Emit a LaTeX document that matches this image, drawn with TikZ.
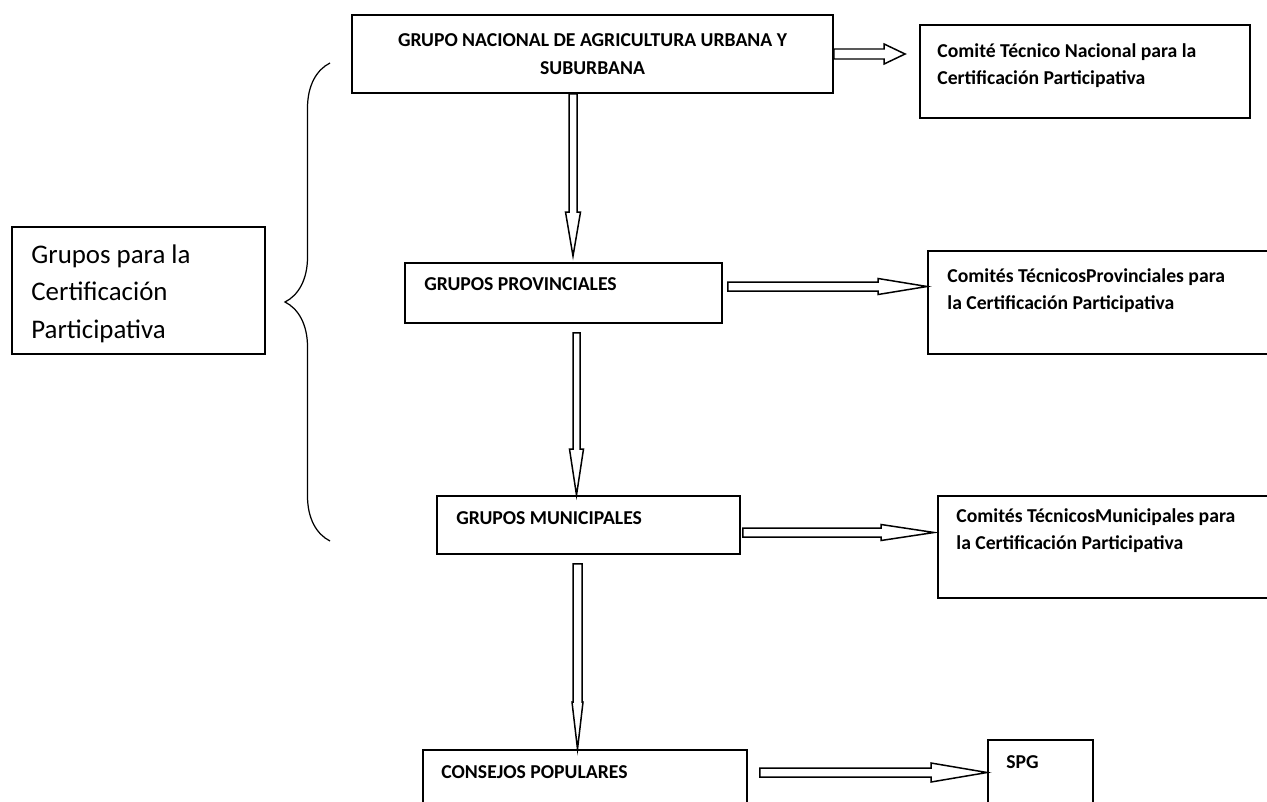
\documentclass[tikz,border=0pt]{standalone}
\usepackage{fontspec}
\setmainfont{Carlito}
\usetikzlibrary{positioning,calc,decorations.pathreplacing}

\tikzset{
  box/.style={draw, rectangle, line width=1.1pt, inner sep=0pt},
  lbl/.style={anchor=north west, align=left, inner sep=0pt, font=\bfseries\fontsize{11.2}{15.3}\selectfont},
  blockline/.style={draw, fill=white, line width=0.85pt, line join=miter},
}

% block arrows: from, to, head length, shaft half width, head half width (px)
\newcommand{\harrow}[5]{%
  \draw[blockline] let \p1=(#1), \p2=(#2) in
    ({\x1},{\y1+#4*0.02cm}) -- ({\x2-#3*0.02cm},{\y1+#4*0.02cm}) -- ({\x2-#3*0.02cm},{\y1+#5*0.02cm})
    -- ({\x2},{\y1}) -- ({\x2-#3*0.02cm},{\y1-#5*0.02cm}) -- ({\x2-#3*0.02cm},{\y1-#4*0.02cm})
    -- ({\x1},{\y1-#4*0.02cm}) -- cycle;}
\newcommand{\varrow}[5]{%
  \draw[blockline] let \p1=(#1), \p2=(#2) in
    ({\x1-#4*0.02cm},{\y1}) -- ({\x1-#4*0.02cm},{\y2+#3*0.02cm}) -- ({\x1-#5*0.02cm},{\y2+#3*0.02cm})
    -- ({\x1},{\y2}) -- ({\x1+#5*0.02cm},{\y2+#3*0.02cm}) -- ({\x1+#4*0.02cm},{\y2+#3*0.02cm})
    -- ({\x1+#4*0.02cm},{\y1}) -- cycle;}

\begin{document}
\begin{tikzpicture}[x=0.02cm, y=-0.02cm]
\useasboundingbox (0,0) rectangle (1267,801);

\node[box, minimum width=9.62cm, minimum height=1.56cm, align=center,
  font=\bfseries\fontsize{11.2}{16}\selectfont] (nacional) at (592.5,54)
  {GRUPO NACIONAL DE AGRICULTURA URBANA Y\\SUBURBANA};
\node[box, minimum width=6.6cm, minimum height=1.86cm,
  label={[lbl, xshift=0.36cm, yshift=-0.39cm]north west:Comité Técnico Nacional para la\\Certificación Participativa}] (cnacional) at (1085,71.5) {};

\node[box, minimum width=6.34cm, minimum height=1.2cm,
  label={[lbl, xshift=0.4cm, yshift=-0.31cm]north west:GRUPOS PROVINCIALES}] (provincial) at (563.5,293) {};
\node[box, minimum width=6.94cm, minimum height=2.06cm,
  label={[lbl, xshift=0.4cm, yshift=-0.37cm]north west:Comités TécnicosProvinciales para\\la Certificación Participativa}] (cprovincial) at (1101.5,302.5) {};

\node[box, minimum width=6.06cm, minimum height=1.16cm,
  label={[lbl, xshift=0.4cm, yshift=-0.33cm]north west:GRUPOS MUNICIPALES}] (municipal) at (588.5,525) {};
\node[box, minimum width=6.74cm, minimum height=2.04cm,
  label={[lbl, xshift=0.38cm, yshift=-0.27cm]north west:Comités TécnicosMunicipales para\\la Certificación Participativa}] (cmunicipal) at (1106.5,547) {};

\node[box, minimum width=6.48cm, minimum height=1.3cm,
  label={[lbl, xshift=0.38cm, yshift=-0.33cm]north west:CONSEJOS POPULARES}] (consejos) at (585,782.5) {};
\node[box, minimum width=2.1cm, minimum height=1.5cm,
  label={[lbl, xshift=0.38cm, yshift=-0.33cm]north west:SPG}] (spg) at (1040.5,777.5) {};

\node[box, minimum width=5.06cm, minimum height=2.54cm,
  label={[lbl, font=\fontsize{15.3}{21.5}\selectfont, xshift=0.4cm, yshift=-0.36cm]north west:Grupos para la\\Certificación\\Participativa}] (grupos) at (138.5,290.5) {};

\draw[line width=0.7pt, decorate, decoration={brace, amplitude=0.9cm}] (330,541) -- (330,63);

\harrow{nacional.east}{[xshift=-0.28cm]cnacional.west}{21}{5}{10}
\harrow{[xshift=0.1cm, yshift=0.13cm]provincial.east}{cprovincial.west}{49}{4.5}{8}
\harrow{[xshift=0.04cm, yshift=-0.15cm]municipal.east}{[xshift=-0.06cm]cmunicipal.west}{53}{4.5}{8}
\harrow{[xshift=0.24cm, yshift=0.2cm]consejos.east}{spg.west}{56}{4.5}{9.5}

\varrow{[xshift=-0.39cm]nacional.south}{[yshift=0.12cm]provincial.north}{44}{4}{7.5}
\varrow{[xshift=0.26cm, yshift=-0.18cm]provincial.south}{municipal.north}{46}{3.5}{7}
\varrow{[xshift=-0.22cm, yshift=-0.18cm]municipal.south}{consejos.north}{47}{4.5}{5.5}
\end{tikzpicture}
\end{document}
